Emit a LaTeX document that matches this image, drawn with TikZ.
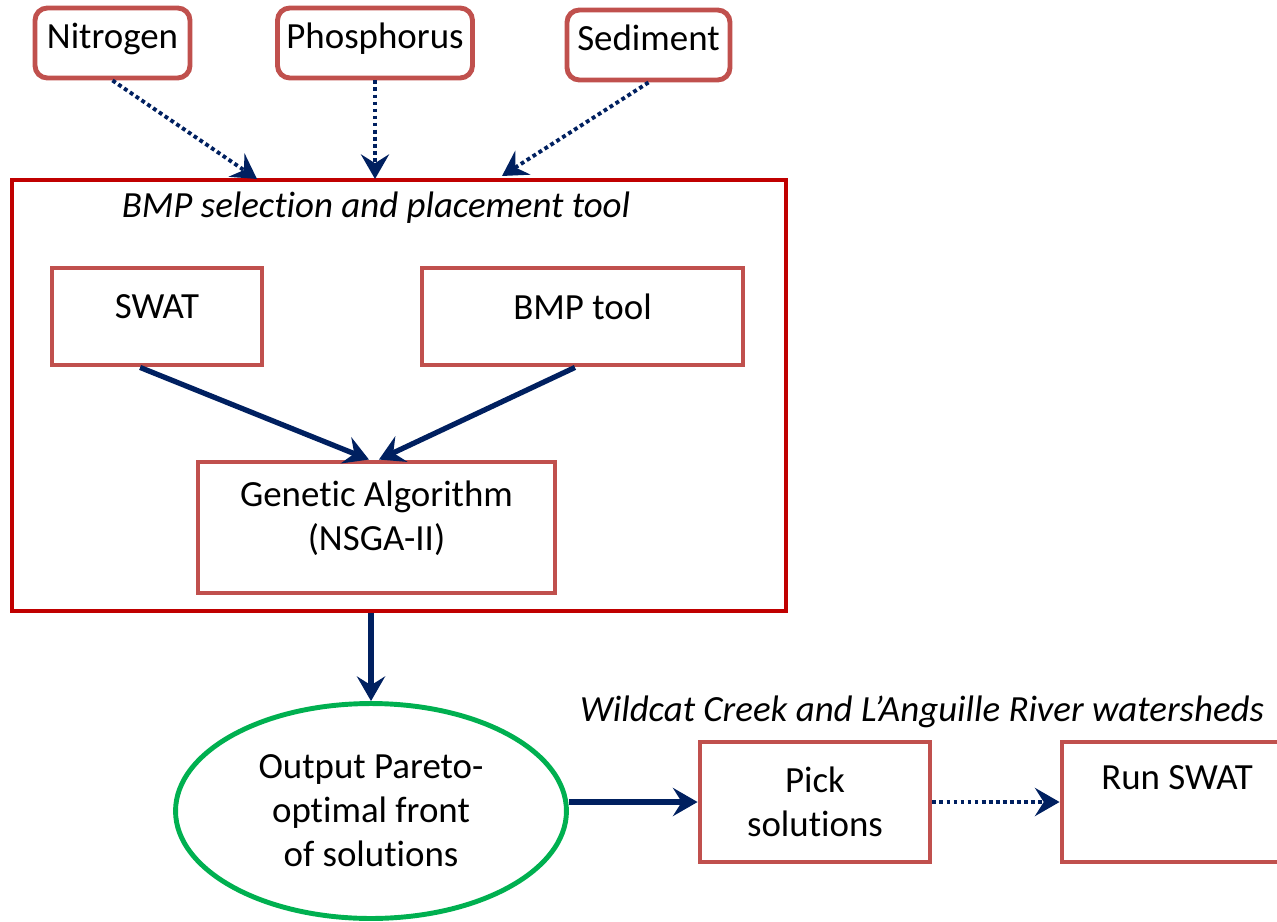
\documentclass[tikz,border=0pt]{standalone}
\usepackage{fontspec}
\setmainfont{Carlito}[Ligatures=NoCommon]
\usetikzlibrary{arrows.meta,shapes.geometric}

\definecolor{boxred}{HTML}{C0504D}
\definecolor{toolred}{HTML}{C00000}
\definecolor{navy}{HTML}{002060}
\definecolor{pgreen}{HTML}{00B050}

\tikzset{
	factor/.style={draw=boxred, line width=2.8pt, rounded corners=7pt, align=center},
	box/.style={draw=boxred, line width=2.8pt, align=center},
	flow/.style={draw=navy, line width=3pt, -{Stealth[length=14pt,width=16pt,inset=5pt]}},
	feed/.style={flow, line width=2.2pt, dash pattern=on 2.2pt off 1.8pt},
}

\begin{document}
\begin{tikzpicture}[x=0.02cm, y=-0.02cm, font=\fontsize{21}{25}\selectfont]
			\path[use as bounding box, clip] (0,0) rectangle (1277,922);
			% Pollutant boxes on top
			\node[factor, minimum width=3.1cm, minimum height=1.4cm, text depth=8pt] (nitro) at (112.5,43) {Nitrogen};
			\node[factor, minimum width=3.9cm, minimum height=1.4cm, text depth=8pt] (phos) at (375,43) {Phosphorus};
			\node[factor, minimum width=3.26cm, minimum height=1.4cm, text depth=8pt] (sed) at (648.5,45) {Sediment};
			
			% Tool frame and its parts
			\node[draw=toolred, line width=2.3pt, minimum width=15.48cm, minimum height=8.62cm] (tool) at (399,395.5) {};
			\node[font=\fontsize{21}{25}\selectfont\itshape] (tooltitle) at (376,208) {BMP selection and placement tool};
			\node[box, minimum width=4.2cm, minimum height=1.94cm, text depth=11pt] (swat) at (157,316.5) {SWAT};
			\node[box, minimum width=6.42cm, minimum height=1.94cm, text depth=11pt] (bmp) at (582.5,316.5) {BMP tool};
			\node[box, minimum width=7.14cm, minimum height=2.62cm, text depth=13pt] (ga) at (376.5,527.5) {Genetic Algorithm\\(NSGA-II)};
			
			% Output and the watershed runs
			\node[ellipse, draw=pgreen, line width=2.8pt, inner sep=0pt, minimum width=7.82cm, minimum height=4.3cm, align=center] (pareto) at (371,811) {Output Pareto-\\optimal front\\of solutions};
			\node[font=\fontsize{21}{25}\selectfont\itshape] (wsd) at (922,712) {Wildcat Creek and L’Anguille River watersheds};
			\node[box, minimum width=4.6cm, minimum height=2.4cm] (pick) at (815,802) {Pick\\solutions};
			\node[box, minimum width=4.6cm, minimum height=2.4cm, text depth=28pt] (run) at (1177,802) {Run SWAT};
			
			% Inputs into the tool
			\coordinate (inN) at (257,179);
			\coordinate (inP) at (375,179);
			\coordinate (inS) at (502,176);
			\foreach \src/\dst in {nitro/inN, phos/inP, sed/inS}{
				\draw[feed] (\src.south) -- (\dst);
			}
			
			\draw[flow] ([xshift=-9.6pt]swat.south) -- ([xshift=-4.3pt]ga.north);
			\draw[flow] ([xshift=-4.3pt]bmp.south) -- ([xshift=1.4pt]ga.north);
			\draw[flow] (tool.south -| pareto.north) -- (pareto.north);
			\draw[flow] (pareto.east |- pick.west) -- (pick.west);
			\draw[feed] (pick.east) -- (run.west);
		\end{tikzpicture}
\end{document}
